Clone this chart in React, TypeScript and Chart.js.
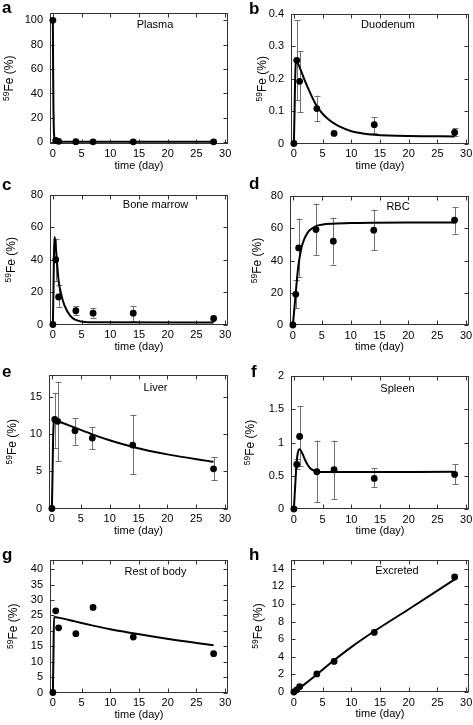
import React, { useEffect, useRef } from 'react';
import { Chart, registerables } from 'chart.js';

Chart.register(...registerables);

// ---------- DATA ----------
const sampleDays = [0, 0.5, 1, 4, 7, 14, 28];
const xTicks = [0, 5, 10, 15, 20, 25, 30];

// a Plasma
const plasmaValues = [100, 1.5, 0.8, 0.5, 0.4, 0.4, 0.4];
const plasmaCurveDays = [0, 0.05, 0.1, 0.15, 0.2, 0.3, 0.5, 1, 2, 28];
const plasmaCurveValues = [100, 55, 28, 14, 7, 2.5, 1.2, 0.7, 0.5, 0.4];
const plasmaTicks = [0, 20, 40, 60, 80, 100];

// b Duodenum
const duodenumValues = [0, 0.257, 0.192, 0.108, 0.031, 0.058, 0.034];
const duodenumLow = [null, 0.134, 0.097, 0.069, null, 0.031, 0.022];
const duodenumHigh = [null, 0.381, 0.286, 0.148, null, 0.081, 0.047];
const duodenumCurveDays = [0, 0.1, 0.2, 0.3, 0.4, 1, 2, 3, 4, 5, 6, 7, 8, 10, 12, 14, 20, 28];
const duodenumCurveValues = [0, 0.08, 0.18, 0.24, 0.255, 0.235, 0.19, 0.15, 0.115, 0.092, 0.075, 0.062, 0.052, 0.038, 0.031, 0.027, 0.023, 0.022];
const duodenumTicks = [0, 0.1, 0.2, 0.3, 0.4];

// c Bone marrow
const marrowValues = [0, 40, 17, 8.5, 7, 7, 3.7];
const marrowLow = [null, 27, 10.9, 5.8, 4.3, 2.3, null];
const marrowHigh = [null, 53, 24.3, 11.3, 9.9, 11.5, null];
const marrowCurveDays = [0, 0.1, 0.2, 0.3, 0.5, 1, 1.5, 2, 3, 4, 5, 6, 28];
const marrowCurveValues = [0, 20, 45, 54, 48, 27, 18, 12, 5.5, 2.8, 1.8, 1.4, 1.2];
const marrowTicks = [0, 20, 40, 60, 80];

// d RBC
const rbcValues = [0, 19, 47.8, 59.2, 52, 58.8, 65];
const rbcLow = [null, 10.3, 29.9, 43.3, 37.5, 46.4, 56.7];
const rbcHigh = [null, 27.8, 66, 75.3, 66.6, 71.5, 73.2];
const rbcCurveDays = [0, 0.25, 0.5, 0.75, 1, 1.5, 2, 2.5, 3, 4, 5, 7, 10, 14, 20, 28];
const rbcCurveValues = [0, 10, 20, 30, 38, 48, 53.5, 57, 59, 61.3, 62.2, 62.8, 63.2, 63.4, 63.5, 63.5];
const rbcTicks = [0, 20, 40, 60, 80];

// e Liver
const liverValues = [0, 12, 11.75, 10.5, 9.5, 8.55, 5.35];
const liverLow = [null, 8.2, 6.4, 8.6, 8, 4.6, 3.8];
const liverHigh = [null, 15.6, 17, 12.2, 11, 12.6, 6.95];
const liverCurveDays = [0, 0.1, 0.2, 0.35, 0.5, 1, 2, 4, 7, 10, 14, 20, 28];
const liverCurveValues = [0, 4, 9, 11.8, 12, 11.8, 11.5, 10.9, 10, 9.2, 8.3, 7.3, 6.3];
const liverTicks = [0, 5, 10, 15];

// f Spleen
const spleenValues = [0, 0.67, 1.09, 0.56, 0.59, 0.46, 0.52];
const spleenLow = [null, 0.6, 0.64, 0.1, 0.15, 0.33, 0.37];
const spleenHigh = [null, 0.75, 1.55, 1.03, 1.03, 0.61, 0.67];
const spleenCurveDays = [0, 0.2, 0.4, 0.6, 0.8, 1, 1.5, 2, 2.5, 3, 4, 5, 7, 28];
const spleenCurveValues = [0, 0.3, 0.6, 0.8, 0.88, 0.9, 0.83, 0.73, 0.65, 0.6, 0.565, 0.555, 0.555, 0.56];
const spleenTicks = [0, 0.5, 1, 1.5, 2];

// g Rest of body
const restValues = [0, 26.5, 21, 19.1, 27.6, 18, 12.6];
const restCurveDays = [0, 0.1, 0.2, 0.5, 1, 4, 7, 10, 14, 21, 28];
const restCurveValues = [0, 12, 24.5, 24.4, 24.3, 23, 21.7, 20.5, 19.2, 17.1, 15.3];
const restTicks = [0, 5, 10, 15, 20, 25, 30, 35, 40];

// h Excreted
const excretedValues = [0, 0.25, 0.6, 2.05, 3.48, 6.77, 13.07];
const excretedCurveDays = [0, 0.5, 1, 2, 4, 7, 10, 14, 20, 28];
const excretedCurveValues = [0, 0.2, 0.45, 0.95, 2.0, 3.6, 5.1, 6.9, 9.4, 12.8];
const excretedTicks = [0, 2, 4, 6, 8, 10, 12, 14];

// ---------- PANELS (data refs + layout) ----------
const FONT = '"Liberation Sans", Arial, sans-serif';

const panels = [
  { letter: 'a', name: 'Plasma', values: plasmaValues, low: null, high: null, cDays: plasmaCurveDays, cVals: plasmaCurveValues, ticks: plasmaTicks, yMin: -1, yMax: 106,
    cell: [0, 0, 237, 185], frame: [50, 228, 13, 143.5], yTitleX: 9, nameX: 155, nameY: 25, letterPos: [2, 13] },
  { letter: 'b', name: 'Duodenum', values: duodenumValues, low: duodenumLow, high: duodenumHigh, cDays: duodenumCurveDays, cVals: duodenumCurveValues, ticks: duodenumTicks, yMin: 0, yMax: 0.4,
    cell: [237, 0, 236, 185], frame: [291, 469, 14, 143.5], yTitleX: 262, nameX: 388, nameY: 25, letterPos: [249, 14] },
  { letter: 'c', name: 'Bone marrow', values: marrowValues, low: marrowLow, high: marrowHigh, cDays: marrowCurveDays, cVals: marrowCurveValues, ticks: marrowTicks, yMin: 0, yMax: 80,
    cell: [0, 172, 237, 193], frame: [50, 228, 195, 324.5], yTitleX: 11, nameX: 155.5, nameY: 205, letterPos: [2, 190] },
  { letter: 'd', name: 'RBC', values: rbcValues, low: rbcLow, high: rbcHigh, cDays: rbcCurveDays, cVals: rbcCurveValues, ticks: rbcTicks, yMin: 0, yMax: 80,
    cell: [237, 172, 236, 193], frame: [290, 469, 196, 325], yTitleX: 257, nameX: 398, nameY: 207, letterPos: [249, 189] },
  { letter: 'e', name: 'Liver', values: liverValues, low: liverLow, high: liverHigh, cDays: liverCurveDays, cVals: liverCurveValues, ticks: liverTicks, yMin: 0, yMax: 18,
    cell: [0, 358, 237, 190], frame: [49, 228, 375, 508.5], yTitleX: 12, nameX: 155.5, nameY: 388, letterPos: [2, 377] },
  { letter: 'f', name: 'Spleen', values: spleenValues, low: spleenLow, high: spleenHigh, cDays: spleenCurveDays, cVals: spleenCurveValues, ticks: spleenTicks, yMin: 0, yMax: 2,
    cell: [237, 358, 236, 190], frame: [291, 469, 376, 509], yTitleX: 250, nameX: 397.5, nameY: 389, letterPos: [251, 377] },
  { letter: 'g', name: 'Rest of body', values: restValues, low: null, high: null, cDays: restCurveDays, cVals: restCurveValues, ticks: restTicks, yMin: 0, yMax: 43,
    cell: [0, 542, 237, 183], frame: [50, 228, 560, 692.5], yTitleX: 13, nameX: 155.5, nameY: 572, letterPos: [2, 560] },
  { letter: 'h', name: 'Excreted', values: excretedValues, low: null, high: null, cDays: excretedCurveDays, cVals: excretedCurveValues, ticks: excretedTicks, yMin: 0, yMax: 15,
    cell: [237, 542, 236, 183], frame: [291, 469, 560, 692], yTitleX: 258, nameX: 397, nameY: 571, letterPos: [249, 560] },
];

function makeDecor(p: any) {
  const [cx, cy] = p.cell;
  return {
    id: 'decor',
    beforeDatasetsDraw(chart: any) {
      const { ctx, chartArea: a, scales } = chart;
      const xs = scales.x, ys = scales.y;
      ctx.save();
      // frame
      ctx.strokeStyle = '#333';
      ctx.lineWidth = 1;
      const L = Math.round(a.left) + 0.5, R = Math.round(a.right) - 0.5;
      const T = Math.round(a.top) + 0.5, B = Math.round(a.bottom) - 0.5;
      ctx.strokeRect(L, T, R - L, B - T);
      // inward ticks on all sides
      ctx.beginPath();
      xTicks.forEach((v) => {
        const px = Math.round(xs.getPixelForValue(v)) + 0.5;
        ctx.moveTo(px, B); ctx.lineTo(px, B - 4);
        ctx.moveTo(px, T); ctx.lineTo(px, T + 4);
      });
      p.ticks.forEach((v: number) => {
        const py = Math.round(ys.getPixelForValue(v)) + 0.5;
        ctx.moveTo(L, py); ctx.lineTo(L + 4, py);
        ctx.moveTo(R, py); ctx.lineTo(R - 4, py);
      });
      ctx.stroke();
      // error bars
      if (p.low && p.high) {
        ctx.strokeStyle = '#707070';
        ctx.lineWidth = 1;
        ctx.beginPath();
        sampleDays.forEach((d, i) => {
          const lo = p.low[i], hi = p.high[i];
          if (lo == null || hi == null) return;
          const px = Math.round(xs.getPixelForValue(d)) + 0.5;
          const y1 = ys.getPixelForValue(lo), y2 = ys.getPixelForValue(hi);
          ctx.moveTo(px, y1); ctx.lineTo(px, y2);
          ctx.moveTo(px - 3, Math.round(y1) + 0.5); ctx.lineTo(px + 3, Math.round(y1) + 0.5);
          ctx.moveTo(px - 3, Math.round(y2) + 0.5); ctx.lineTo(px + 3, Math.round(y2) + 0.5);
        });
        ctx.stroke();
      }
      ctx.restore();
    },
    afterDraw(chart: any) {
      const { ctx, chartArea: a } = chart;
      ctx.save();
      ctx.fillStyle = '#000';
      // panel letter
      ctx.font = 'bold 17px ' + FONT;
      ctx.textAlign = 'left';
      ctx.textBaseline = 'alphabetic';
      ctx.fillText(p.letter, p.letterPos[0] - cx, p.letterPos[1] - cy);
      // panel name
      ctx.font = '11px ' + FONT;
      ctx.textAlign = 'center';
      ctx.textBaseline = 'middle';
      ctx.fillText(p.name, p.nameX - cx, p.nameY - cy);
      // x title
      ctx.fillText('time (day)', (a.left + a.right) / 2, a.bottom + 22);
      // y title with superscript
      const midY = (a.top + a.bottom) / 2;
      ctx.translate(p.yTitleX - cx, midY);
      ctx.rotate(-Math.PI / 2);
      ctx.textAlign = 'left';
      ctx.textBaseline = 'alphabetic';
      ctx.font = '8.5px ' + FONT;
      const supW = ctx.measureText('59').width;
      ctx.font = '12px ' + FONT;
      const mainW = ctx.measureText('Fe (%)').width;
      const x0 = -(supW + mainW) / 2;
      ctx.font = '8.5px ' + FONT;
      ctx.fillText('59', x0, -0.5);
      ctx.font = '12px ' + FONT;
      ctx.fillText('Fe (%)', x0 + supW, 4);
      ctx.restore();
    },
  };
}

function Panel({ p }: { p: any }) {
  const ref = useRef<HTMLCanvasElement | null>(null);
  useEffect(() => {
    const [cx, cy, cw, ch] = p.cell;
    const [L, R, T, B] = p.frame;
    const chart = new Chart(ref.current as HTMLCanvasElement, {
      type: 'line',
      data: {
        datasets: [
          {
            type: 'line',
            data: p.cDays.map((d: number, i: number) => ({ x: d, y: p.cVals[i] })),
            borderColor: '#000',
            borderWidth: 2,
            pointRadius: 0,
            fill: false,
            cubicInterpolationMode: 'monotone',
            order: 2,
          },
          {
            type: 'scatter',
            data: sampleDays.map((d, i) => ({ x: d, y: p.values[i] })),
            showLine: false,
            pointRadius: 3.4,
            pointBackgroundColor: '#000',
            pointBorderColor: '#000',
            pointBorderWidth: 0,
            clip: false,
            order: 1,
          },
        ] as any,
      },
      options: {
        responsive: false,
        animation: false,
        devicePixelRatio: 1,
        events: [],
        layout: { padding: { left: 0, top: T - cy, right: cx + cw - R, bottom: 0 } },
        plugins: { legend: { display: false }, tooltip: { enabled: false }, title: { display: false } },
        scales: {
          x: {
            type: 'linear',
            min: -0.5,
            max: 30.5,
            border: { display: false },
            grid: { display: false, drawTicks: false },
            ticks: { padding: 4, color: '#000', font: { family: FONT, size: 11 }, autoSkip: false, maxRotation: 0 },
            afterBuildTicks: (s: any) => { s.ticks = xTicks.map((v) => ({ value: v })); },
            afterFit: (s: any) => { s.height = cy + ch - B; s.paddingLeft = 0; s.paddingRight = 0; },
          },
          y: {
            type: 'linear',
            min: p.yMin,
            max: p.yMax,
            border: { display: false },
            grid: { display: false, drawTicks: false },
            ticks: { padding: 7, color: '#000', font: { family: FONT, size: 11 }, autoSkip: false, callback: (v: any) => String(v) },
            afterBuildTicks: (s: any) => { s.ticks = p.ticks.map((v: number) => ({ value: v })); },
            afterFit: (s: any) => { s.width = L - cx; s.paddingTop = 0; s.paddingBottom = 0; },
          },
        },
      } as any,
      plugins: [makeDecor(p)],
    });
    return () => chart.destroy();
  }, []);
  const [cx, cy, cw, ch] = p.cell;
  return (
    <canvas
      ref={ref}
      width={cw}
      height={ch}
      style={{ position: 'absolute', left: cx, top: cy, width: cw, height: ch }}
    />
  );
}

export default function App() {
  return (
    <div style={{ position: 'absolute', left: 0, top: 0, width: 473, height: 725, background: '#fff', overflow: 'hidden' }}>
      {panels.map((p) => (
        <Panel key={p.letter} p={p} />
      ))}
    </div>
  );
}
